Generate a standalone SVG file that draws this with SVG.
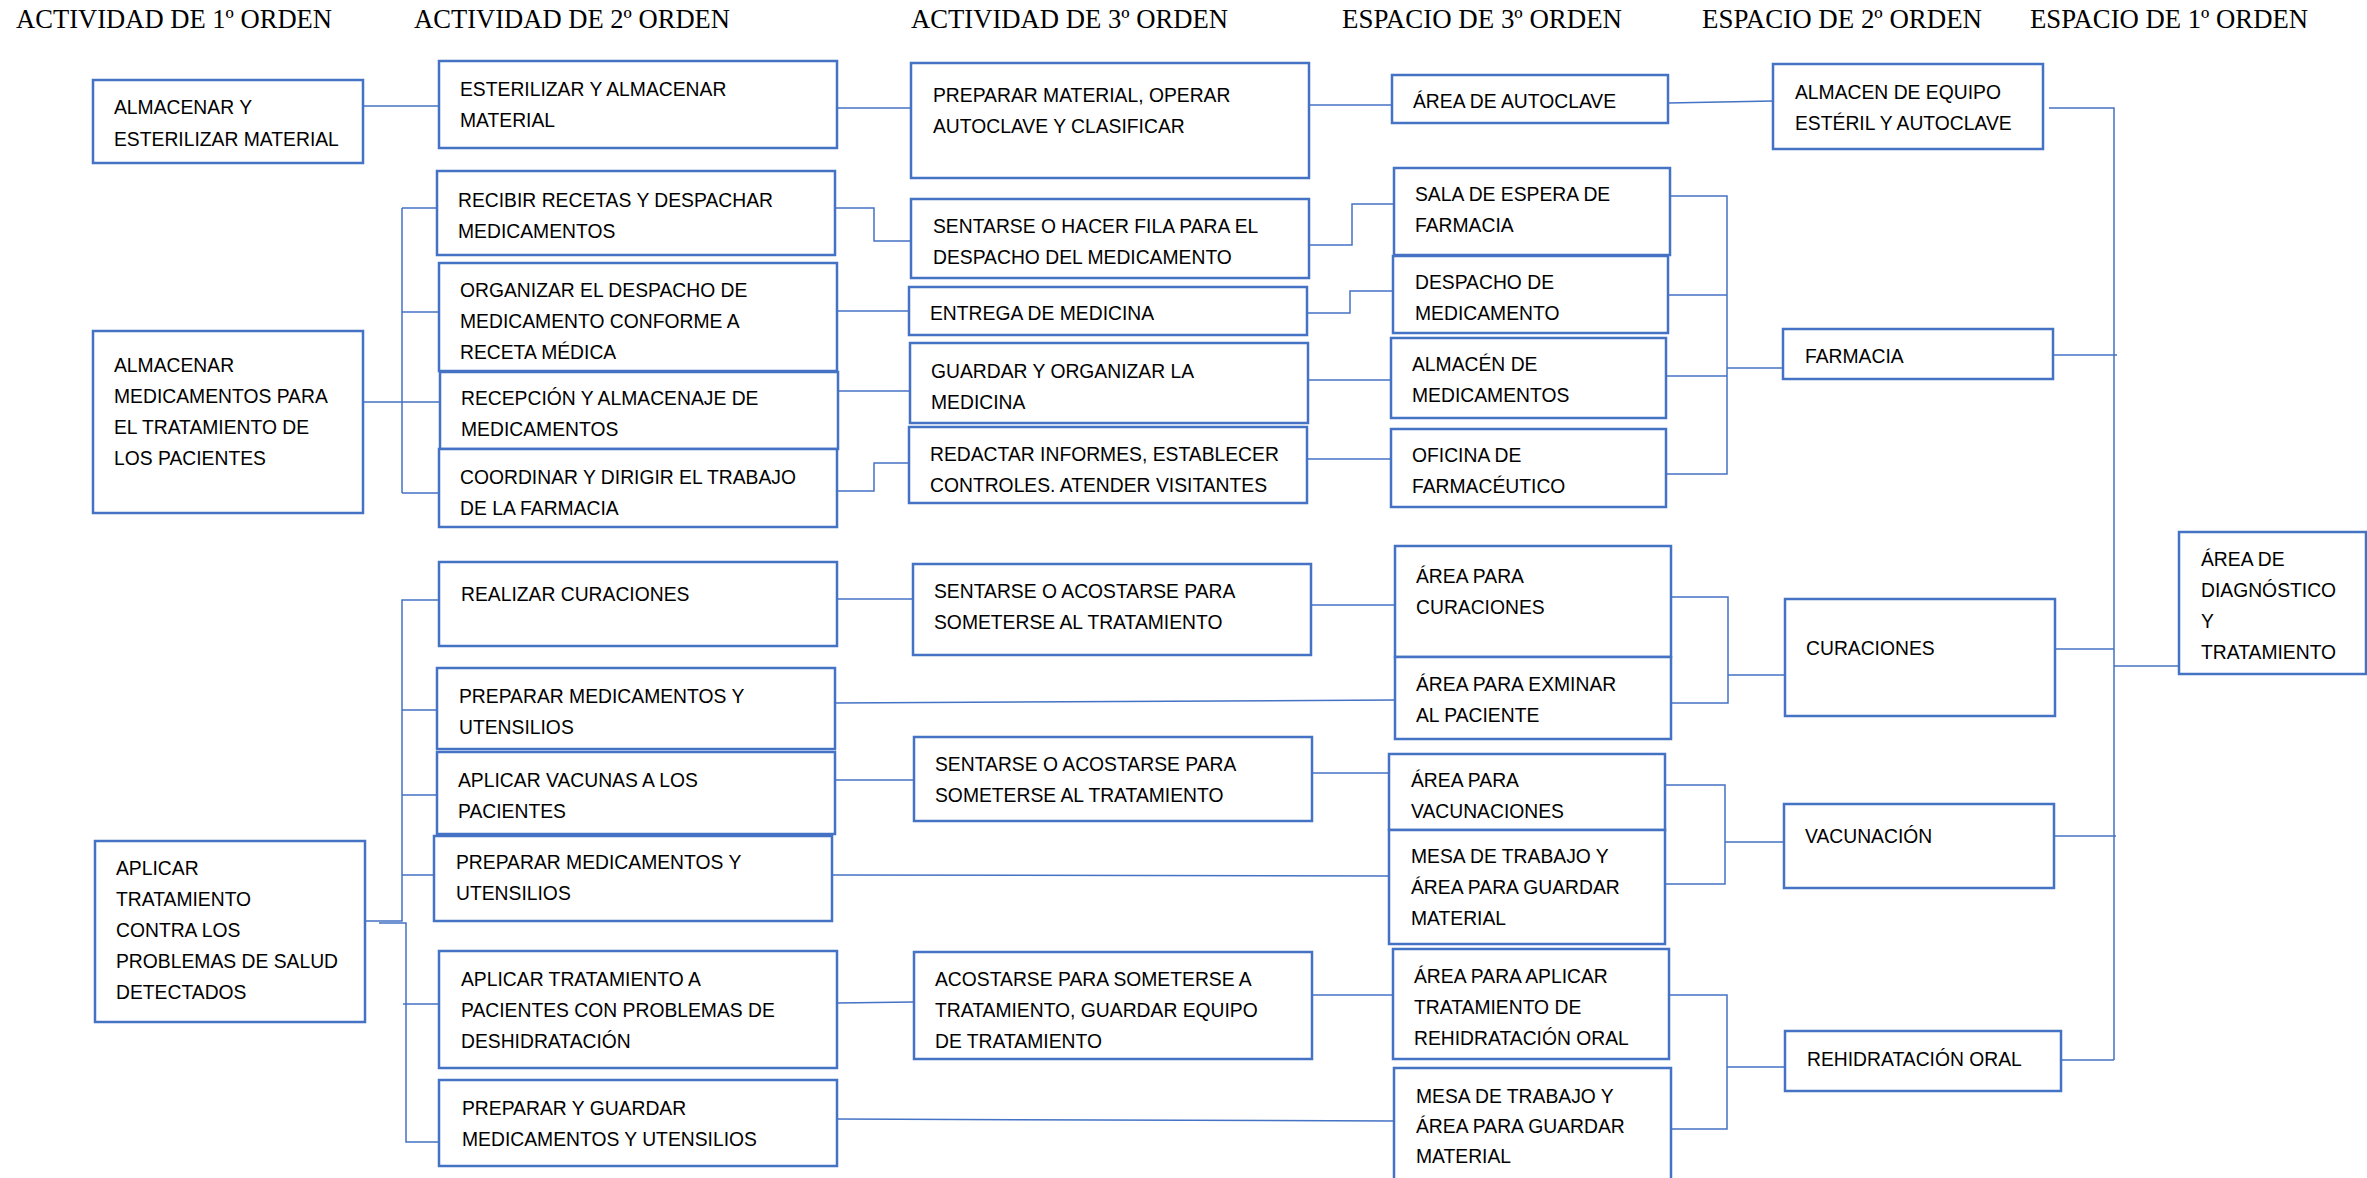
<svg xmlns="http://www.w3.org/2000/svg" width="2367" height="1178" viewBox="0 0 2367 1178">
<style>
.bg{fill:#ffffff}
.box{fill:#ffffff;stroke:#4472C4;stroke-width:2.5}
.hd{font-family:"Liberation Serif","Times New Roman",serif;font-size:27px;fill:#000}
.t{font-family:"Liberation Sans",Arial,sans-serif;font-size:21px;fill:#000}
.c{fill:none;stroke:#4472C4;stroke-width:1.5}
</style>
<rect class="bg" x="0" y="0" width="2367" height="1178"/>
<g id="headers">
<text class="hd" x="16" y="28" textLength="316" lengthAdjust="spacingAndGlyphs">ACTIVIDAD DE 1º ORDEN</text>
<text class="hd" x="414" y="28" textLength="316" lengthAdjust="spacingAndGlyphs">ACTIVIDAD DE 2º ORDEN</text>
<text class="hd" x="911" y="28" textLength="317" lengthAdjust="spacingAndGlyphs">ACTIVIDAD DE 3º ORDEN</text>
<text class="hd" x="1342" y="28" textLength="280" lengthAdjust="spacingAndGlyphs">ESPACIO DE 3º ORDEN</text>
<text class="hd" x="1702" y="28" textLength="280" lengthAdjust="spacingAndGlyphs">ESPACIO DE 2º ORDEN</text>
<text class="hd" x="2030" y="28" textLength="278" lengthAdjust="spacingAndGlyphs">ESPACIO DE 1º ORDEN</text>
</g>
<g id="connectors">
<path class="c" d="M363,106 H439"/>
<path class="c" d="M363,402 H402 M402,208 V493 M402,208 H437 M402,312 H439 M402,402 H440 M402,493 H439"/>
<path class="c" d="M837,108 H911"/>
<path class="c" d="M835,208 H874 V241 H911"/>
<path class="c" d="M837,311 H909"/>
<path class="c" d="M838,391 H910"/>
<path class="c" d="M837,491 H874 V463 H909"/>
<path class="c" d="M1309,105 H1392"/>
<path class="c" d="M1309,245 H1352 V204 H1394"/>
<path class="c" d="M1307,313 H1350 V291 H1393"/>
<path class="c" d="M1308,380 H1391"/>
<path class="c" d="M1307,459 H1391"/>
<path class="c" d="M1668,103 L1773,101"/>
<path class="c" d="M1670,196 H1727 V474 H1666 M1668,295 H1727 M1666,376 H1727 M1727,368 H1783"/>
<path class="c" d="M2049,108 H2114 V1060"/>
<path class="c" d="M2053,355 H2117"/>
<path class="c" d="M2055,649 H2114"/>
<path class="c" d="M2114,666 H2179"/>
<path class="c" d="M2054,836 H2116"/>
<path class="c" d="M2061,1060 H2114"/>
<path class="c" d="M1671,597 H1728 V703 H1671 M1728,675 H1785"/>
<path class="c" d="M1665,785 H1725 V884 H1665 M1725,842 H1784"/>
<path class="c" d="M1669,995 H1727 V1129 H1671 M1727,1067 H1785"/>
<path class="c" d="M365,921 H402 V600 H439 M402,710 H437 M402,795 H437 M402,875 H434"/>
<path class="c" d="M379,923 H406 V1142 H439 M403,1004 H439"/>
<path class="c" d="M837,599 H913"/>
<path class="c" d="M1311,605 H1395"/>
<path class="c" d="M835,703 L1395,700"/>
<path class="c" d="M835,780 H914"/>
<path class="c" d="M1312,773 H1389"/>
<path class="c" d="M832,875 L1389,876"/>
<path class="c" d="M837,1003 L914,1002"/>
<path class="c" d="M1312,995 H1393"/>
<path class="c" d="M837,1119 L1394,1121"/>
</g>
<g id="n1"><rect class="box" x="93" y="80" width="270" height="83"/><text class="t" transform="translate(114,114) scale(.92 1)"><tspan x="0" y="0">ALMACENAR Y</tspan><tspan x="0" y="32">ESTERILIZAR MATERIAL</tspan></text></g>
<g id="n2"><rect class="box" x="439" y="61" width="398" height="87"/><text class="t" transform="translate(460,96) scale(.92 1)"><tspan x="0" y="0">ESTERILIZAR Y ALMACENAR</tspan><tspan x="0" y="31">MATERIAL</tspan></text></g>
<g id="n3"><rect class="box" x="437" y="171" width="398" height="84"/><text class="t" transform="translate(458,207) scale(.92 1)"><tspan x="0" y="0">RECIBIR RECETAS Y DESPACHAR</tspan><tspan x="0" y="31">MEDICAMENTOS</tspan></text></g>
<g id="n4"><rect class="box" x="439" y="263" width="398" height="108"/><text class="t" transform="translate(460,297) scale(.92 1)"><tspan x="0" y="0">ORGANIZAR EL DESPACHO DE</tspan><tspan x="0" y="31">MEDICAMENTO CONFORME A</tspan><tspan x="0" y="62">RECETA MÉDICA</tspan></text></g>
<g id="n5"><rect class="box" x="440" y="372" width="398" height="77"/><text class="t" transform="translate(461,405) scale(.92 1)"><tspan x="0" y="0">RECEPCIÓN Y ALMACENAJE DE</tspan><tspan x="0" y="31">MEDICAMENTOS</tspan></text></g>
<g id="n6"><rect class="box" x="439" y="449" width="398" height="78"/><text class="t" transform="translate(460,484) scale(.92 1)"><tspan x="0" y="0">COORDINAR Y DIRIGIR EL TRABAJO</tspan><tspan x="0" y="31">DE LA FARMACIA</tspan></text></g>
<g id="n7"><rect class="box" x="93" y="331" width="270" height="182"/><text class="t" transform="translate(114,372) scale(.92 1)"><tspan x="0" y="0">ALMACENAR</tspan><tspan x="0" y="31">MEDICAMENTOS PARA</tspan><tspan x="0" y="62">EL TRATAMIENTO DE</tspan><tspan x="0" y="93">LOS PACIENTES</tspan></text></g>
<g id="n8"><rect class="box" x="911" y="63" width="398" height="115"/><text class="t" transform="translate(933,102) scale(.92 1)"><tspan x="0" y="0">PREPARAR MATERIAL, OPERAR</tspan><tspan x="0" y="31">AUTOCLAVE Y CLASIFICAR</tspan></text></g>
<g id="n9"><rect class="box" x="911" y="199" width="398" height="79"/><text class="t" transform="translate(933,233) scale(.92 1)"><tspan x="0" y="0">SENTARSE O HACER FILA PARA EL</tspan><tspan x="0" y="31">DESPACHO DEL MEDICAMENTO</tspan></text></g>
<g id="n10"><rect class="box" x="909" y="287" width="398" height="48"/><text class="t" transform="translate(930,320) scale(.92 1)"><tspan x="0" y="0">ENTREGA DE MEDICINA</tspan></text></g>
<g id="n11"><rect class="box" x="910" y="343" width="398" height="80"/><text class="t" transform="translate(931,378) scale(.92 1)"><tspan x="0" y="0">GUARDAR Y ORGANIZAR LA</tspan><tspan x="0" y="31">MEDICINA</tspan></text></g>
<g id="n12"><rect class="box" x="909" y="427" width="398" height="76"/><text class="t" transform="translate(930,461) scale(.92 1)"><tspan x="0" y="0">REDACTAR INFORMES, ESTABLECER</tspan><tspan x="0" y="31">CONTROLES. ATENDER VISITANTES</tspan></text></g>
<g id="n13"><rect class="box" x="1392" y="75" width="276" height="48"/><text class="t" transform="translate(1413,108) scale(.92 1)"><tspan x="0" y="0">ÁREA DE AUTOCLAVE</tspan></text></g>
<g id="n14"><rect class="box" x="1394" y="168" width="276" height="87"/><text class="t" transform="translate(1415,201) scale(.92 1)"><tspan x="0" y="0">SALA DE ESPERA DE</tspan><tspan x="0" y="31">FARMACIA</tspan></text></g>
<g id="n15"><rect class="box" x="1393" y="256" width="275" height="77"/><text class="t" transform="translate(1415,289) scale(.92 1)"><tspan x="0" y="0">DESPACHO DE</tspan><tspan x="0" y="31">MEDICAMENTO</tspan></text></g>
<g id="n16"><rect class="box" x="1391" y="338" width="275" height="80"/><text class="t" transform="translate(1412,371) scale(.92 1)"><tspan x="0" y="0">ALMACÉN DE</tspan><tspan x="0" y="31">MEDICAMENTOS</tspan></text></g>
<g id="n17"><rect class="box" x="1391" y="429" width="275" height="78"/><text class="t" transform="translate(1412,462) scale(.92 1)"><tspan x="0" y="0">OFICINA DE</tspan><tspan x="0" y="31">FARMACÉUTICO</tspan></text></g>
<g id="n18"><rect class="box" x="1773" y="64" width="270" height="85"/><text class="t" transform="translate(1795,99) scale(.92 1)"><tspan x="0" y="0">ALMACEN DE EQUIPO</tspan><tspan x="0" y="31">ESTÉRIL Y AUTOCLAVE</tspan></text></g>
<g id="n19"><rect class="box" x="1783" y="329" width="270" height="50"/><text class="t" transform="translate(1805,363) scale(.92 1)"><tspan x="0" y="0">FARMACIA</tspan></text></g>
<g id="n20"><rect class="box" x="439" y="562" width="398" height="84"/><text class="t" transform="translate(461,601) scale(.92 1)"><tspan x="0" y="0">REALIZAR CURACIONES</tspan></text></g>
<g id="n21"><rect class="box" x="437" y="668" width="398" height="81"/><text class="t" transform="translate(459,703) scale(.92 1)"><tspan x="0" y="0">PREPARAR MEDICAMENTOS Y</tspan><tspan x="0" y="31">UTENSILIOS</tspan></text></g>
<g id="n22"><rect class="box" x="437" y="752" width="398" height="82"/><text class="t" transform="translate(458,787) scale(.92 1)"><tspan x="0" y="0">APLICAR VACUNAS A LOS</tspan><tspan x="0" y="31">PACIENTES</tspan></text></g>
<g id="n23"><rect class="box" x="434" y="836" width="398" height="85"/><text class="t" transform="translate(456,869) scale(.92 1)"><tspan x="0" y="0">PREPARAR MEDICAMENTOS Y</tspan><tspan x="0" y="31">UTENSILIOS</tspan></text></g>
<g id="n24"><rect class="box" x="439" y="951" width="398" height="117"/><text class="t" transform="translate(461,986) scale(.92 1)"><tspan x="0" y="0">APLICAR TRATAMIENTO A</tspan><tspan x="0" y="31">PACIENTES CON PROBLEMAS DE</tspan><tspan x="0" y="62">DESHIDRATACIÓN</tspan></text></g>
<g id="n25"><rect class="box" x="439" y="1080" width="398" height="86"/><text class="t" transform="translate(462,1115) scale(.92 1)"><tspan x="0" y="0">PREPARAR Y GUARDAR</tspan><tspan x="0" y="31">MEDICAMENTOS Y UTENSILIOS</tspan></text></g>
<g id="n26"><rect class="box" x="95" y="841" width="270" height="181"/><text class="t" transform="translate(116,875) scale(.92 1)"><tspan x="0" y="0">APLICAR</tspan><tspan x="0" y="31">TRATAMIENTO</tspan><tspan x="0" y="62">CONTRA LOS</tspan><tspan x="0" y="93">PROBLEMAS DE SALUD</tspan><tspan x="0" y="124">DETECTADOS</tspan></text></g>
<g id="n27"><rect class="box" x="913" y="564" width="398" height="91"/><text class="t" transform="translate(934,598) scale(.92 1)"><tspan x="0" y="0">SENTARSE O ACOSTARSE PARA</tspan><tspan x="0" y="31">SOMETERSE AL TRATAMIENTO</tspan></text></g>
<g id="n28"><rect class="box" x="914" y="737" width="398" height="84"/><text class="t" transform="translate(935,771) scale(.92 1)"><tspan x="0" y="0">SENTARSE O ACOSTARSE PARA</tspan><tspan x="0" y="31">SOMETERSE AL TRATAMIENTO</tspan></text></g>
<g id="n29"><rect class="box" x="914" y="952" width="398" height="107"/><text class="t" transform="translate(935,986) scale(.92 1)"><tspan x="0" y="0">ACOSTARSE PARA SOMETERSE A</tspan><tspan x="0" y="31">TRATAMIENTO, GUARDAR EQUIPO</tspan><tspan x="0" y="62">DE TRATAMIENTO</tspan></text></g>
<g id="n30"><rect class="box" x="1395" y="546" width="276" height="111"/><text class="t" transform="translate(1416,583) scale(.92 1)"><tspan x="0" y="0">ÁREA PARA</tspan><tspan x="0" y="31">CURACIONES</tspan></text></g>
<g id="n31"><rect class="box" x="1395" y="657" width="276" height="82"/><text class="t" transform="translate(1416,691) scale(.92 1)"><tspan x="0" y="0">ÁREA PARA EXMINAR</tspan><tspan x="0" y="31">AL PACIENTE</tspan></text></g>
<g id="n32"><rect class="box" x="1389" y="754" width="276" height="76"/><text class="t" transform="translate(1411,787) scale(.92 1)"><tspan x="0" y="0">ÁREA PARA</tspan><tspan x="0" y="31">VACUNACIONES</tspan></text></g>
<g id="n33"><rect class="box" x="1389" y="830" width="276" height="114"/><text class="t" transform="translate(1411,863) scale(.92 1)"><tspan x="0" y="0">MESA DE TRABAJO Y</tspan><tspan x="0" y="31">ÁREA PARA GUARDAR</tspan><tspan x="0" y="62">MATERIAL</tspan></text></g>
<g id="n34"><rect class="box" x="1393" y="949" width="276" height="110"/><text class="t" transform="translate(1414,983) scale(.92 1)"><tspan x="0" y="0">ÁREA PARA APLICAR</tspan><tspan x="0" y="31">TRATAMIENTO DE</tspan><tspan x="0" y="62">REHIDRATACIÓN ORAL</tspan></text></g>
<g id="n35"><rect class="box" x="1394" y="1068" width="277" height="120"/><text class="t" transform="translate(1416,1103) scale(.92 1)"><tspan x="0" y="0">MESA DE TRABAJO Y</tspan><tspan x="0" y="30">ÁREA PARA GUARDAR</tspan><tspan x="0" y="60">MATERIAL</tspan></text></g>
<g id="n36"><rect class="box" x="1785" y="599" width="270" height="117"/><text class="t" transform="translate(1806,655) scale(.92 1)"><tspan x="0" y="0">CURACIONES</tspan></text></g>
<g id="n37"><rect class="box" x="1784" y="804" width="270" height="84"/><text class="t" transform="translate(1805,843) scale(.92 1)"><tspan x="0" y="0">VACUNACIÓN</tspan></text></g>
<g id="n38"><rect class="box" x="1785" y="1031" width="276" height="60"/><text class="t" transform="translate(1807,1066) scale(.92 1)"><tspan x="0" y="0">REHIDRATACIÓN ORAL</tspan></text></g>
<g id="n39"><rect class="box" x="2179" y="532" width="187" height="142"/><text class="t" transform="translate(2201,566) scale(.92 1)"><tspan x="0" y="0">ÁREA DE</tspan><tspan x="0" y="31">DIAGNÓSTICO</tspan><tspan x="0" y="62">Y</tspan><tspan x="0" y="93">TRATAMIENTO</tspan></text></g>
</svg>
